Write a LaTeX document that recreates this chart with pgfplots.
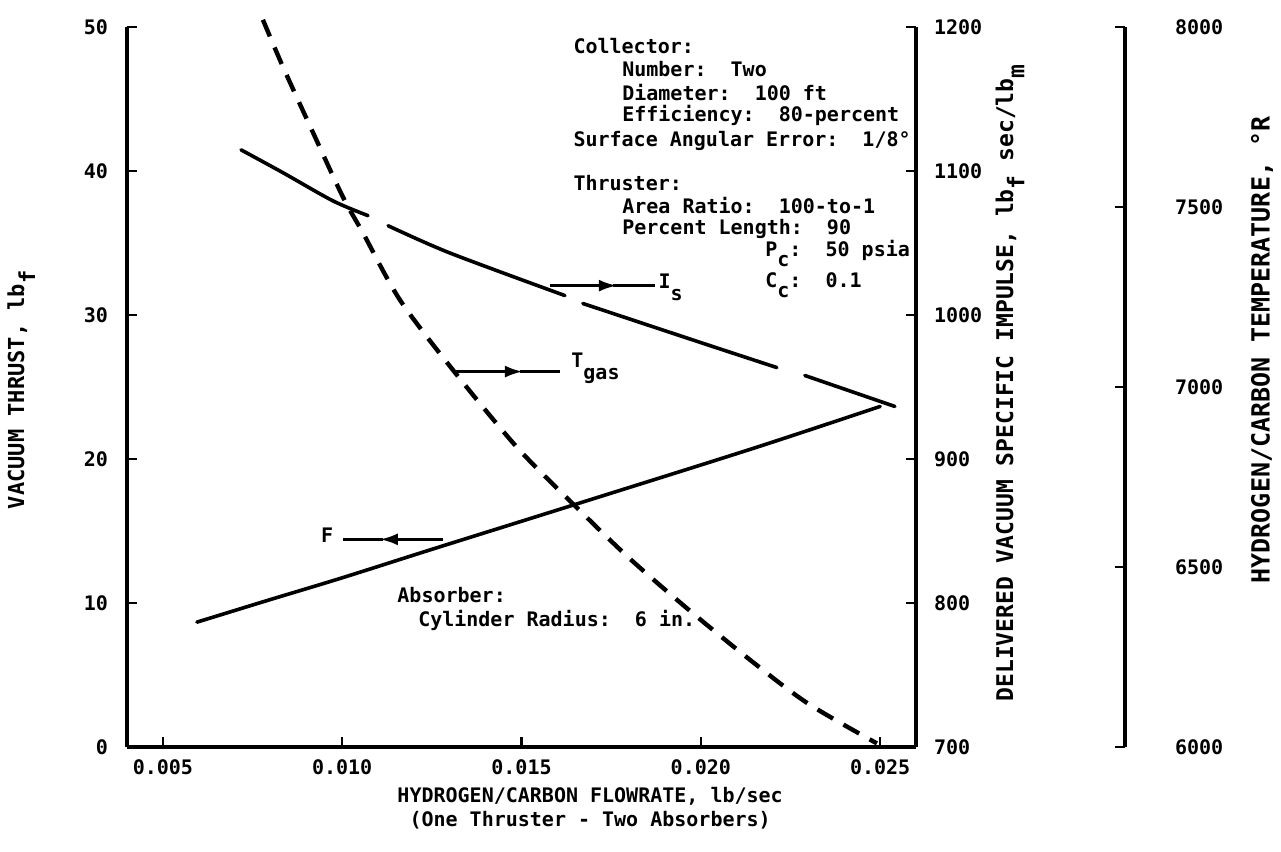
\documentclass[border=0pt]{standalone}
\usepackage{fontspec}
\setmainfont{DejaVu Sans Mono}
\usepackage{pgfplots}
\pgfplotsset{compat=1.18}
\usetikzlibrary{arrows.meta}

\pgfplotsset{
  chart/.style={
    scale only axis, width=394.5pt, height=360pt,
    at={(0pt,0pt)}, anchor=south west,
    xmin=0.004, xmax=0.026, clip=false,
    scaled x ticks=false,
    axis line style={-, line width=2pt},
    tick style={black, line width=1.3pt},
    major tick length=5pt,
    tick label style={font=\bfseries},
    /pgf/number format/assume math mode=true,
    /pgf/number format/1000 sep={},
  },
  curve/.style={black, line width=1.8pt, line cap=round},
}

\begin{document}
\begin{tikzpicture}
\useasboundingbox (-63.5pt,-52.5pt) rectangle (577pt,373.5pt);

% thrust, left axis
\begin{axis}[chart,
  ymin=0, ymax=50,
  axis x line*=bottom, axis y line*=left,
  xtick={0.005,0.010,0.015,0.020,0.025},
  xticklabels={0.005,0.010,0.015,0.020,0.025},
  ytick={0,10,20,30,40,50},
  yticklabel style={xshift=-6pt},
  xticklabel style={yshift=-3pt},
]
\addplot[curve, smooth] coordinates {
  (0.00595,8.67) (0.00788,10.15) (0.0100,11.75) (0.01253,13.75)
  (0.01644,16.8) (0.02145,20.73) (0.0250,23.65)
};

% arrows and labels
\draw[line width=1.5pt] (axis cs:0.01281,14.42) -- (axis cs:0.01200,14.42);
\draw[line width=1.5pt, -{Latex[length=9pt,width=6pt]}] (axis cs:0.01200,14.42) -- (axis cs:0.01105,14.42);
\draw[line width=1.5pt] (axis cs:0.01115,14.42) -- (axis cs:0.01002,14.42);
\node[font=\bfseries] at (axis cs:0.00958,14.70) {F};

\draw[line width=1.5pt, -{Latex[length=9pt,width=6pt]}] (axis cs:0.01309,26.07) -- (axis cs:0.01504,26.07);
\draw[line width=1.5pt] (axis cs:0.01495,26.07) -- (axis cs:0.01607,26.07);
\node[font=\bfseries, anchor=west, inner sep=0pt] at (axis cs:0.01638,26.28) {T\raisebox{-1.1ex}{gas}};

\draw[line width=1.5pt, -{Latex[length=9pt,width=6pt]}] (axis cs:0.01580,32.04) -- (axis cs:0.01766,32.04);
\draw[line width=1.5pt] (axis cs:0.01755,32.04) -- (axis cs:0.01872,32.04);
\node[font=\bfseries, anchor=west, inner sep=0pt] at (axis cs:0.01881,31.9) {I\raisebox{-1.1ex}{s}};

\begin{scope}[every node/.style={font=\bfseries, anchor=west, inner sep=0pt}]
\node at (axis cs:0.01644,48.68) {Collector:};
\node at (axis cs:0.01780,47.09) {Number:\ \ Two};
\node at (axis cs:0.01780,45.42) {Diameter:\ \ 100 ft};
\node at (axis cs:0.01780,43.83) {Efficiency:\ \ 80-percent};
\node at (axis cs:0.01644,42.09) {Surface Angular Error:\ \ 1/8°};
\node at (axis cs:0.01644,39.18) {Thruster:};
\node at (axis cs:0.01780,37.59) {Area Ratio:\ \ 100-to-1};
\node at (axis cs:0.01780,35.99) {Percent Length:\ \ 90};
\node at (axis cs:0.02179,34.26) {P\raisebox{-0.9ex}{c}:\ \ 50 psia};
\node at (axis cs:0.02179,32.04) {C\raisebox{-0.9ex}{c}:\ \ 0.1};
\node at (axis cs:0.01153,10.54) {Absorber:};
\node at (axis cs:0.01211,8.81) {Cylinder Radius:\ \ 6 in.};
\end{scope}

\node[font=\fontsize{11}{13}\selectfont\bfseries, rotate=90] at (rel axis cs:-0.1340,0.496) {VACUUM THRUST, lb\raisebox{-0.9ex}{f}};
\node[font=\fontsize{11.5}{13}\selectfont\bfseries, rotate=90] at (rel axis cs:1.1191,0.5056) {DELIVERED VACUUM SPECIFIC IMPULSE, lb\raisebox{-0.9ex}{f} sec/lb\raisebox{-0.9ex}{m}};
\node[font=\fontsize{12.5}{14}\selectfont\bfseries, rotate=90] at (rel axis cs:1.4385,0.5514) {HYDROGEN/CARBON TEMPERATURE, °R};
\node[font=\bfseries, align=center, inner sep=0pt] at (rel axis cs:0.587,-0.0847) {HYDROGEN/CARBON FLOWRATE, lb/sec\\(One Thruster - Two Absorbers)};
\end{axis}

% specific impulse, first right axis
\begin{axis}[chart,
  ymin=700, ymax=1200,
  axis x line=none, axis y line*=right,
  ytick={700,800,900,1000,1100,1200},
  yticklabel style={xshift=5.5pt},
]
\addplot[curve, smooth] coordinates {
  (0.00718,1114.7) (0.00835,1098.8) (0.00974,1079.3) (0.01072,1069.0)
};
\addplot[curve, smooth] coordinates {
  (0.01128,1062.0) (0.01301,1043.0) (0.01621,1013.5)
};
\addplot[curve, smooth] coordinates {
  (0.01671,1008.0) (0.01998,981.0) (0.02212,963.5)
};
\addplot[curve] coordinates {
  (0.02290,958.0) (0.02541,936.5)
};
\end{axis}

% gas temperature, second right axis
\begin{axis}[chart,
  width=499pt, xmax=0.031828,
  ymin=6000, ymax=8000,
  axis x line=none, axis y line*=right,
  ytick={6000,6500,7000,7500,8000},
  yticklabel style={xshift=21.5pt},
]
\addplot[curve, line width=2.2pt, line cap=butt, dash pattern=on 9pt off 6pt, smooth] coordinates {
  (0.00779,8020) (0.00835,7889) (0.00919,7706) (0.01002,7528)
  (0.01058,7428) (0.01161,7242) (0.01309,7047) (0.01487,6833)
  (0.01644,6675) (0.01800,6525) (0.01970,6378) (0.02150,6232)
  (0.02300,6120) (0.02491,6010)
};
\end{axis}
\end{tikzpicture}
\end{document}
